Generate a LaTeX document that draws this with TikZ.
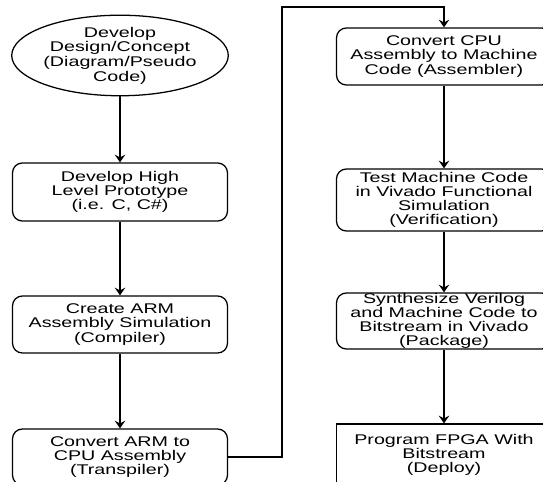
\documentclass[tikz,border=0pt]{standalone}
\usepackage{fontspec}
\newfontfamily\flowfont{Liberation Sans}[FakeStretch=1.4]
\usetikzlibrary{shapes.geometric,arrows.meta}

\begin{document}
\begin{tikzpicture}[
  line width=0.9pt,
  stage/.style={draw,rounded corners=7pt,minimum width=5.375cm,inner sep=0pt,
    align=center,font=\flowfont\fontsize{10}{10.1}\selectfont},
  start/.style={draw,ellipse,minimum width=5.4cm,minimum height=1.875cm,inner sep=0pt,
    align=center,font=\flowfont\fontsize{10}{10.4}\selectfont},
  flow/.style={-{Stealth[length=5.5pt,width=7.5pt,inset=2pt]}}
]
\clip (0,0) rectangle (13.575,12.05);
% left column
\draw (3.0,10.6625) node[start](concept) {Develop\\Design/Concept\\(Diagram/Pseudo\\Code)};
\draw (3.0,7.25) node[stage,minimum height=1.45cm](proto) {Develop High\\Level Prototype\\(i.e. C, C\#)};
\draw (3.0,3.9375) node[stage,minimum height=1.425cm](compile) {Create ARM\\Assembly Simulation\\(Compiler)};
\draw (3.0,0.625) node[stage,minimum height=1.4cm](transpile) {Convert ARM to\\CPU Assembly\\(Transpiler)};
% right column
\draw (11.1,10.6375) node[stage,minimum height=1.425cm](assemble) {Convert CPU\\Assembly to Machine\\Code (Assembler)};
\draw (11.1,7.05) node[stage,minimum height=1.55cm](verify) {Test Machine Code\\in Vivado Functional\\Simulation\\(Verification)};
\draw (11.1,4.025) node[stage,minimum height=1.4cm](package) {Synthesize Verilog\\and Machine Code to\\Bitstream in Vivado\\(Package)};
\draw (11.1,0.675) node[stage,rounded corners=0pt,minimum height=1.55cm](deploy) {Program FPGA With\\Bitstream\\(Deploy)};
\coordinate (loopup) at (7.05,11.875);
% connectors
\draw[flow] (concept) -- (proto);
\draw[flow] (proto) -- (compile);
\draw[flow] (compile) -- (transpile);
\draw[flow] (transpile.east) -| (loopup) -| (assemble.north);
\draw[flow] (assemble) -- (verify);
\draw[flow] (verify) -- (package);
\draw[flow] (package) -- (deploy);
\end{tikzpicture}
\end{document}
